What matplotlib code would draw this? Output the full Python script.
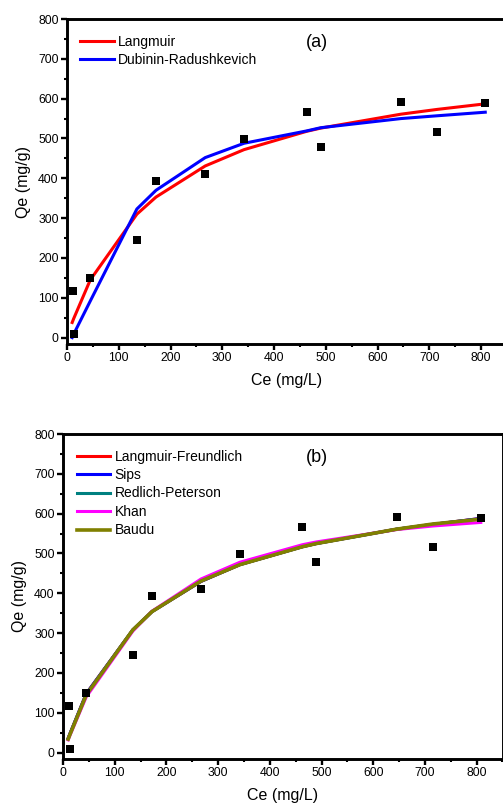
import matplotlib
matplotlib.use("Agg")
import matplotlib.pyplot as plt
from matplotlib.ticker import MultipleLocator

plt.rcParams['font.family'] = ['Liberation Sans', 'DejaVu Sans']

# experimental points
ce = [11, 13, 45, 135, 172, 267, 342, 463, 490, 645, 715, 808]
qe = [116, 9, 149, 245, 394, 411, 498, 567, 479, 592, 516, 589]

# model curves evaluated at the same Ce values
ce_fit = [10, 13, 45, 135, 172, 267, 342, 463, 490, 645, 715, 808]
langmuir = [38, 48, 145, 310, 353, 431, 472, 518, 526, 561, 573, 587]
dubinin = [0, 9, 92, 323, 370, 452, 488, 519, 527, 550, 557, 566]

lang_freund = [36, 46, 148, 308, 354, 430, 472, 517, 525, 561, 573, 588]
sips = [36, 46, 148, 308, 354, 430, 472, 517, 525, 561, 573, 588]
redlich = [35, 45, 146, 308, 354, 431, 472, 517, 525, 561, 573, 587]
khan = [32, 42, 140, 305, 355, 436, 478, 522, 529, 560, 569, 578]
baudu = [34, 44, 145, 308, 354, 431, 472, 517, 525, 561, 574, 586]

W, H = 503, 811
fig = plt.figure(figsize=(W / 100, H / 100), dpi=100)


def setup(ax):
    ax.set_xlim(0, 850)
    ax.set_ylim(-16, 800)
    ax.xaxis.set_major_locator(MultipleLocator(100))
    ax.xaxis.set_minor_locator(MultipleLocator(50))
    ax.yaxis.set_major_locator(MultipleLocator(100))
    ax.yaxis.set_minor_locator(MultipleLocator(50))
    for s in ax.spines.values():
        s.set_linewidth(2.1)
    ax.tick_params(which='major', direction='out', length=4, width=1.7,
                   labelsize=8.8, pad=2, top=False, right=False)
    ax.tick_params(which='minor', direction='out', length=2.5, width=1.5,
                   top=False, right=False)
    ax.set_xlabel('Ce (mg/L)', fontsize=11.5, labelpad=6)
    ax.set_ylabel('Qe (mg/g)', fontsize=11.5, labelpad=5)
    ax.scatter(ce, qe, marker='s', s=32, color='black', zorder=5, linewidths=0)


def legend(ax, x0):
    ax.legend(loc='upper left', bbox_to_anchor=(x0, 0.952), frameon=False,
              fontsize=10, handlelength=2.4, handletextpad=0.3, labelspacing=0.32,
              borderpad=0, borderaxespad=0)


# panel (a)
ax1 = fig.add_axes([67 / W, (H - 344) / H, 440 / W, 325 / H])
ax1.plot(ce_fit, langmuir, color='#ff0000', lw=2.2, label='Langmuir')
ax1.plot(ce_fit, dubinin, color='#0000ff', lw=2.2, label='Dubinin-Radushkevich')
setup(ax1)
legend(ax1, 0.03)
fig.text(317 / W, 1 - 42.7 / H, '(a)', fontsize=13, ha='center', va='center')

# panel (b)
ax2 = fig.add_axes([63 / W, (H - 759) / H, 439.5 / W, 325 / H])
ax2.plot(ce_fit, lang_freund, color='#ff0000', lw=2.2, label='Langmuir-Freundlich')
ax2.plot(ce_fit, sips, color='#0000ff', lw=2.2, label='Sips')
ax2.plot(ce_fit, redlich, color='#008080', lw=2.2, label='Redlich-Peterson')
ax2.plot(ce_fit, khan, color='#ff00ff', lw=2.2, label='Khan')
ax2.plot(ce_fit, baudu, color='#808000', lw=2.6, label='Baudu')
setup(ax2)
legend(ax2, 0.032)
fig.text(317 / W, 1 - 457.7 / H, '(b)', fontsize=13, ha='center', va='center')

fig.savefig('out.png', dpi=100)
